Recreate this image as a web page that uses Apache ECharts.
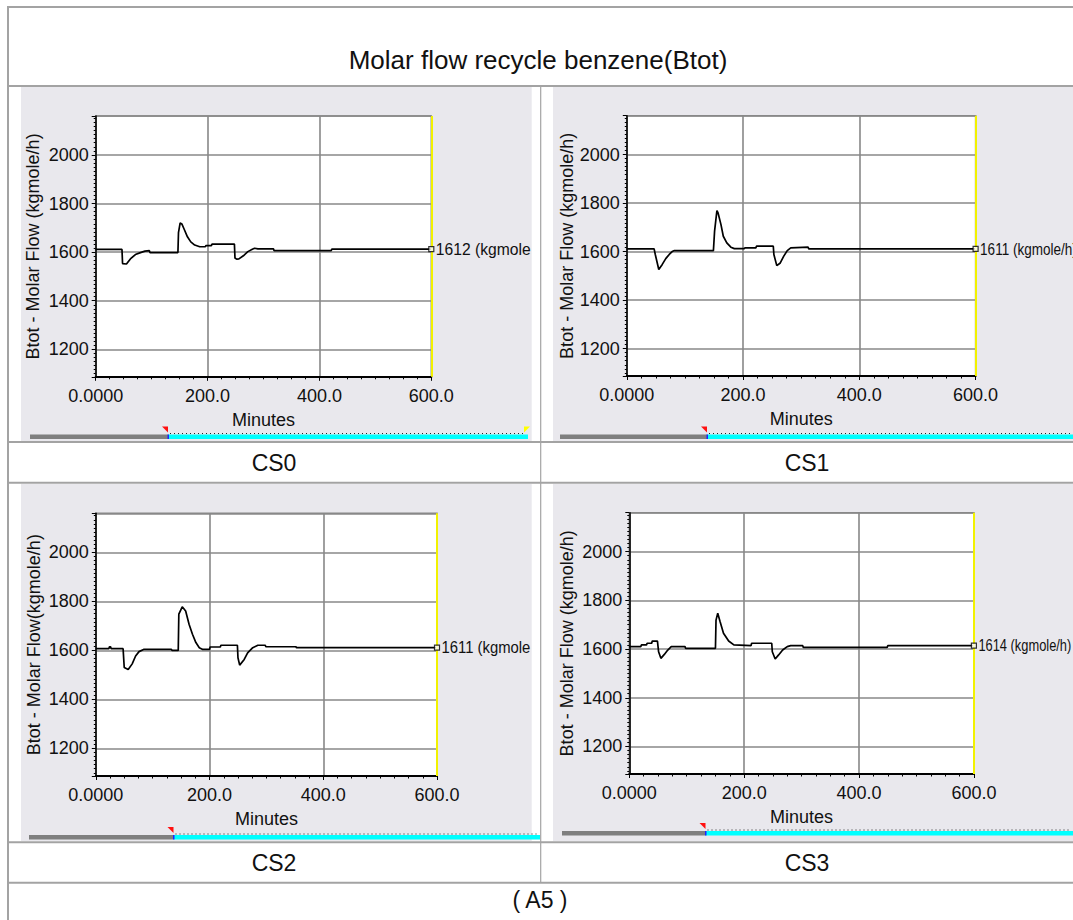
<!DOCTYPE html>
<html>
<head>
<meta charset="utf-8">
<script src="https://cdn.jsdelivr.net/npm/echarts@6/dist/echarts.min.js"></script>
<style>
  html, body { margin: 0; padding: 0; background: #ffffff; }
  #chart { width: 1073px; height: 920px; }
</style>
</head>
<body>
<div id="chart"></div>
<script>
// ---------- DATA ----------
const pageTitle = 'Molar flow recycle benzene(Btot)';
const caseNames = ['CS0', 'CS1', 'CS2', 'CS3'];
const figureLabel = '( A5 )';
const xAxisTitle = 'Minutes';
const yAxisTitles = [
  'Btot - Molar Flow (kgmole/h)',
  'Btot - Molar Flow (kgmole/h)',
  'Btot - Molar Flow(kgmole/h)',
  'Btot - Molar Flow (kgmole/h)'
];
const unitText = '(kgmole/h)';
const xTickValues = [0, 200, 400, 600];
const xTickLabels = ['0.0000', '200.0', '400.0', '600.0'];
const yTickValues = [1200, 1400, 1600, 1800, 2000];
const yTickLabels = ['1200', '1400', '1600', '1800', '2000'];
const xRange = [0, 600];
const yRange = [1087, 2160];

// CS0 trace (minutes, kgmole/h)
const cs0Time = [0, 47, 48, 55, 62, 71, 80, 88, 96, 97, 147, 148, 151, 154, 158, 164, 170, 177, 186, 196, 197, 207, 208, 248, 249, 252, 256, 264, 272, 280, 284, 290, 318, 319, 421, 422, 600];
const cs0Flow = [1611, 1611, 1553, 1551, 1572, 1590, 1598, 1604, 1606, 1598, 1598, 1680, 1720, 1716, 1695, 1663, 1642, 1629, 1622, 1622, 1627, 1627, 1633, 1633, 1576, 1571, 1572, 1585, 1602, 1612, 1616, 1613, 1613, 1606, 1606, 1612, 1612];

// CS1 trace
const cs1Time = [0, 47, 49, 55, 61, 67, 73, 78, 82, 149, 151, 155, 157, 162, 166, 172, 179, 185, 202, 203, 222, 223, 252, 253, 258, 264, 270, 276, 282, 312, 313, 600];
const cs1Flow = [1611, 1611, 1588, 1526, 1547, 1571, 1588, 1600, 1604, 1604, 1684, 1769, 1759, 1711, 1663, 1636, 1618, 1612, 1612, 1615, 1615, 1622, 1622, 1588, 1542, 1553, 1581, 1604, 1615, 1618, 1611, 1611];

// CS2 trace
const cs2Time = [0, 23, 24, 26, 27, 48, 50, 57, 64, 70, 76, 84, 133, 134, 145, 146, 152, 158, 164, 170, 176, 182, 188, 200, 201, 219, 220, 249, 250, 253, 261, 267, 276, 285, 298, 299, 352, 353, 600];
const cs2Flow = [1607, 1607, 1615, 1615, 1607, 1607, 1530, 1522, 1545, 1577, 1595, 1604, 1604, 1600, 1600, 1748, 1778, 1761, 1707, 1666, 1632, 1611, 1604, 1604, 1614, 1614, 1621, 1621, 1570, 1540, 1563, 1590, 1611, 1621, 1621, 1615, 1615, 1611, 1611];

// CS3 trace
const cs3Time = [0, 20, 21, 30, 31, 39, 40, 49, 51, 55, 61, 67, 73, 97, 98, 150, 151, 154, 158, 164, 173, 182, 212, 213, 248, 249, 254, 260, 267, 275, 281, 302, 303, 449, 450, 600];
const cs3Flow = [1610, 1610, 1617, 1617, 1624, 1624, 1633, 1633, 1589, 1562, 1578, 1596, 1610, 1610, 1603, 1603, 1719, 1747, 1713, 1665, 1633, 1617, 1614, 1624, 1624, 1589, 1559, 1576, 1596, 1610, 1614, 1614, 1607, 1607, 1614, 1614];

const caseTimes = [cs0Time, cs1Time, cs2Time, cs3Time];
const caseFlows = [cs0Flow, cs1Flow, cs2Flow, cs3Flow];

// ---------- LAYOUT / STYLE ----------
const FONT = "'Liberation Sans', Arial, sans-serif";
const gridBoxes = [
  { left: 95.7, top: 116, width: 335.6, height: 260.8, nameGap: 54, labelWidth: 97, labelScale: 0.95 },
  { left: 626.8, top: 115.7, width: 348.8, height: 260.3, nameGap: 49, labelWidth: 200, labelScale: 0.82 },
  { left: 95.8, top: 513.3, width: 341.2, height: 262.7, nameGap: 53, labelWidth: 92, labelScale: 0.9 },
  { left: 629.3, top: 512.7, width: 344.6, height: 261.3, nameGap: 53, labelWidth: 200, labelScale: 0.78 }
];
const panels = [
  { x: 21, y: 87, w: 510.7, h: 354 },
  { x: 553, y: 87, w: 520, h: 354 },
  { x: 21, y: 484, w: 510.7, h: 357 },
  { x: 553, y: 484, w: 520, h: 357 }
];
const sliders = [
  { x0: 30, x1: 168, x2: 528, y: 434.5, yellow: true },
  { x0: 560, x1: 707, x2: 1073, y: 434.5, yellow: false },
  { x0: 29, x1: 173.5, x2: 540, y: 835, yellow: false },
  { x0: 562, x1: 705.5, x2: 1073, y: 831, yellow: false }
];

const gridLineColor = '#888888';
const tableLine = '#a3a3a3';

const grids = [], xAxes = [], yAxes = [], series = [];
gridBoxes.forEach((g, i) => {
  grids.push({
    left: g.left, top: g.top, width: g.width, height: g.height,
    show: true, backgroundColor: '#ffffff',
    borderColor: gridLineColor, borderWidth: 1.5, containLabel: false
  });
  xAxes.push({
    gridIndex: i, type: 'value', min: xRange[0], max: xRange[1], interval: 200,
    axisLine: { show: true, onZero: false, lineStyle: { color: '#000', width: 2 } },
    axisTick: { show: true, length: 4, lineStyle: { color: '#000', width: 1 } },
    minorTick: { show: true, splitNumber: 8, length: 2.5, lineStyle: { color: '#000', width: 1 } },
    splitLine: { show: true, lineStyle: { color: gridLineColor, width: 1.6 } },
    axisLabel: {
      margin: 10, color: '#111', fontSize: 18, fontFamily: FONT,
      formatter: v => { const k = xTickValues.indexOf(v); return k >= 0 ? xTickLabels[k] : ''; }
    },
    name: xAxisTitle, nameLocation: 'middle', nameGap: 34,
    nameTextStyle: { color: '#111', fontSize: 18, fontFamily: FONT }
  });
  yAxes.push({
    gridIndex: i, type: 'value', min: yRange[0], max: yRange[1], splitNumber: 5,
    axisLine: { show: true, onZero: false, lineStyle: { color: '#000', width: 1.5 } },
    axisTick: { show: true, length: 4, lineStyle: { color: '#000', width: 1 } },
    minorTick: { show: true, splitNumber: 12, length: 2, lineStyle: { color: '#000', width: 1 } },
    splitLine: { show: true, lineStyle: { color: gridLineColor, width: 1.6 } },
    axisLabel: {
      showMinLabel: false, showMaxLabel: false,
      margin: 7, color: '#111', fontSize: 18, fontFamily: FONT,
      formatter: v => { const k = yTickValues.indexOf(v); return k >= 0 ? yTickLabels[k] : ''; }
    },
    name: yAxisTitles[i], nameLocation: 'middle', nameGap: g.nameGap,
    nameTextStyle: { color: '#111', fontSize: 18, fontFamily: FONT }
  });
  const pts = caseTimes[i].map((t, k) => [t, caseFlows[i][k]]);
  series.push({
    type: 'line', xAxisIndex: i, yAxisIndex: i, data: pts,
    showSymbol: false, symbol: 'none', animation: false, silent: true,
    lineStyle: { color: '#000', width: 1.7 },
    markLine: {
      silent: true, symbol: 'none', animation: false,
      label: { show: false },
      lineStyle: { color: '#f2f200', width: 2, type: 'solid' },
      data: [{ xAxis: xRange[1] }]
    },
    z: 3
  });
  series.push({
    type: 'scatter', xAxisIndex: i, yAxisIndex: i, animation: false, silent: true,
    data: [pts[pts.length - 1]],
    symbol: 'rect', symbolSize: 5,
    itemStyle: { color: '#ffffff', borderColor: '#000', borderWidth: 1.2 },
    z: 5
  });
});

// ---------- GRAPHICS (table, panels, sliders, texts) ----------
const graphics = [];
panels.forEach(p => {
  graphics.push({ type: 'rect', z: -5, silent: true, shape: { x: p.x, y: p.y, width: p.w, height: p.h }, style: { fill: '#e9e8ed' } });
});
sliders.forEach(s => {
  graphics.push({ type: 'rect', z: 50, silent: true, shape: { x: s.x0, y: s.y, width: s.x1 - s.x0, height: 4.5 }, style: { fill: '#7f7f7f' } });
  graphics.push({ type: 'rect', z: 50, silent: true, shape: { x: s.x1, y: s.y, width: s.x2 - s.x1, height: 4.5 }, style: { fill: '#00ffff' } });
  graphics.push({ type: 'line', z: 51, silent: true, shape: { x1: s.x1 + 2, y1: s.y - 1, x2: s.x2 - 3, y2: s.y - 1 }, style: { stroke: '#222', lineWidth: 1, lineDash: [1, 3] } });
  graphics.push({ type: 'rect', z: 51, silent: true, shape: { x: s.x1 - 0.5, y: s.y, width: 1.5, height: 4.5 }, style: { fill: '#2020ff' } });
  graphics.push({ type: 'polygon', z: 52, silent: true, shape: { points: [[s.x1 - 6, s.y - 8], [s.x1, s.y - 8], [s.x1, s.y - 2]] }, style: { fill: '#ff1010' } });
  if (s.yellow) {
    graphics.push({ type: 'polygon', z: 52, silent: true, shape: { points: [[s.x2 - 4, s.y - 2], [s.x2 - 4, s.y - 8], [s.x2 + 2, s.y - 8]] }, style: { fill: '#ffff00' } });
  }
});
// table borders
const hLines = [7, 86, 442, 482.7, 842.3, 882.7];
hLines.forEach(y => {
  graphics.push({ type: 'line', z: 60, silent: true, shape: { x1: 8, y1: y, x2: 1073, y2: y }, style: { stroke: tableLine, lineWidth: 2 } });
});
graphics.push({ type: 'line', z: 60, silent: true, shape: { x1: 8, y1: 6, x2: 8, y2: 920 }, style: { stroke: tableLine, lineWidth: 2 } });
graphics.push({ type: 'line', z: 60, silent: true, shape: { x1: 540.7, y1: 86, x2: 540.7, y2: 882.7 }, style: { stroke: tableLine, lineWidth: 1.2 } });
// texts
graphics.push({ type: 'text', z: 70, silent: true, x: 538, y: 60, style: { text: pageTitle, fill: '#111', font: "26px 'Liberation Sans', Arial, sans-serif", align: 'center', verticalAlign: 'middle' } });
const casePos = [[274, 462.5], [807, 462.5], [274, 862.5], [807, 862.5]];
caseNames.forEach((n, i) => {
  graphics.push({ type: 'text', z: 70, silent: true, x: casePos[i][0], y: casePos[i][1], style: { text: n, fill: '#111', font: "23px 'Liberation Sans', Arial, sans-serif", align: 'center', verticalAlign: 'middle' } });
});
graphics.push({ type: 'text', z: 70, silent: true, x: 540, y: 900, style: { text: figureLabel, fill: '#111', font: "23px 'Liberation Sans', Arial, sans-serif", align: 'center', verticalAlign: 'middle' } });

const chart = echarts.init(document.getElementById('chart'), null, { renderer: 'svg', width: 1073, height: 920 });
chart.setOption({
  animation: false,
  backgroundColor: '#ffffff',
  grid: grids,
  xAxis: xAxes,
  yAxis: yAxes,
  series: series,
  graphic: { elements: graphics }
});

// end-value labels (HYSYS style), placed through the chart's own scales
const endLabels = [];
gridBoxes.forEach((g, i) => {
  const T = caseTimes[i], F = caseFlows[i];
  const last = [T[T.length - 1], F[F.length - 1]];
  const px = chart.convertToPixel({ gridIndex: i }, last);
  endLabels.push({
    type: 'text', z: 80, silent: true, x: px[0] + 4.5, y: px[1], scaleX: g.labelScale, scaleY: 1,
    style: {
      text: Math.round(last[1]) + ' ' + unitText, fill: '#111',
      font: "16.5px 'Liberation Sans', Arial, sans-serif",
      align: 'left', verticalAlign: 'middle',
      width: g.labelWidth / g.labelScale, overflow: 'truncate', ellipsis: ''
    }
  });
});
chart.setOption({ graphic: { elements: graphics.concat(endLabels) } });
</script>
</body>
</html>
